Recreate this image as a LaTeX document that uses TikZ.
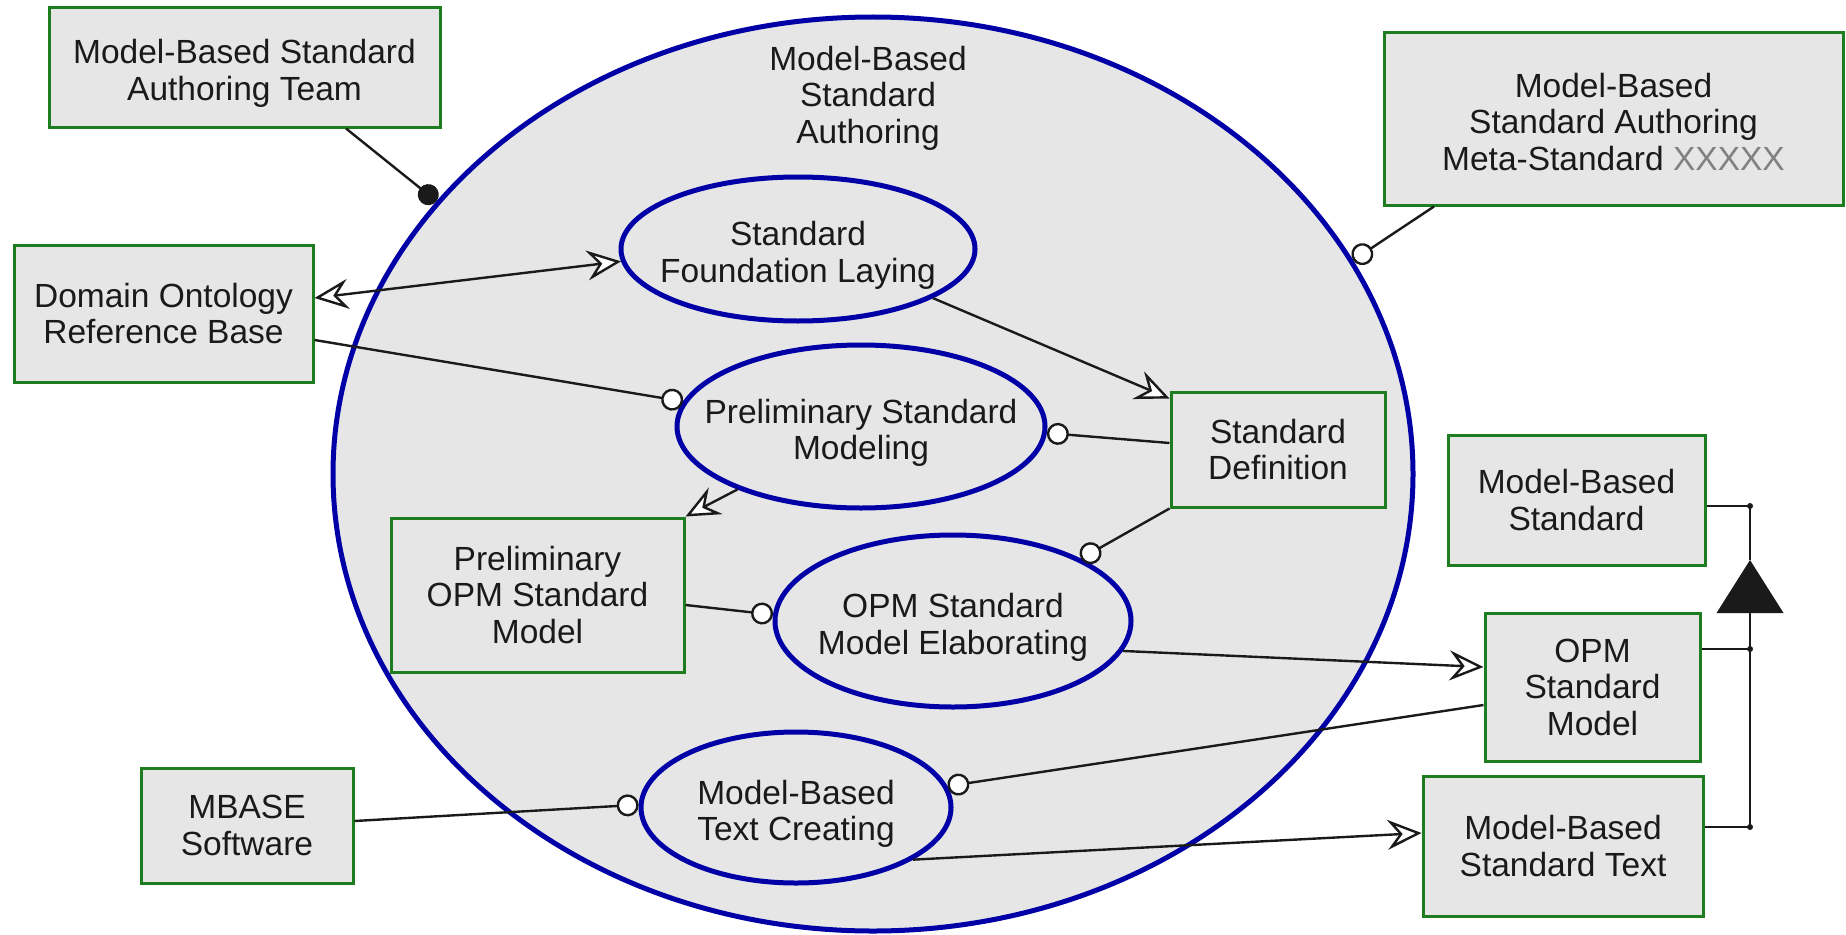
\documentclass[tikz,border=0pt]{standalone}
\usepackage{fontspec}
\setmainfont{Liberation Sans}
\usetikzlibrary{shapes.geometric,arrows.meta,calc}
\definecolor{boxfill}{HTML}{E6E6E6}
\definecolor{objgreen}{HTML}{1E7D1E}
\definecolor{procblue}{HTML}{0000A6}
\definecolor{ink}{HTML}{1A1A1A}

\tikzset{
  >={Stealth[fill=white, length=34pt, width=30pt, inset=12pt]},
  ocirc/.tip={Circle[fill=white, length=22pt]},
  bdot/.tip={Circle[fill=ink, length=21pt]},
}

\begin{document}
\begin{tikzpicture}[x=1pt, y=-1pt,
  txt/.style={font=\fontsize{33.5}{36.5}\selectfont, text=ink, align=center, inner sep=0pt},
  obj/.style={txt, rectangle, draw=objgreen, line width=3pt, fill=boxfill},
  proc/.style={ellipse, draw=procblue, line width=5pt, fill=boxfill, inner sep=0pt},
  conn/.style={draw=ink, line width=2.4pt},
]
\useasboundingbox (0,0) rectangle (1846,934);

% the enclosing process
\node[proc, minimum width=1080pt, minimum height=914pt] (main) at (873,474) {};
\node[txt] (mainlabel) at (868,98) {Model-Based\\Standard\\Authoring};

% objects
\node[obj, minimum width=391pt, minimum height=119pt] (team) at (244.5,67.5) {};
\node[txt] (teamtext) at ([yshift=-6pt]team.center) {Model-Based Standard\\Authoring Team};
\node[obj, minimum width=299pt, minimum height=137pt] (domain) at (163.5,313.5) {Domain Ontology\\Reference Base};
\node[obj, minimum width=459pt, minimum height=172pt] (meta) at (1613.5,119) {};
\node[txt] (metatext) at ([yshift=-3pt]meta.center) {Model-Based\\Standard Authoring\\Meta-Standard {\color{ink!55}XXXXX}};
\node[obj, minimum width=214pt, minimum height=115pt] (stddef) at (1278,449.5) {Standard\\Definition};
\node[obj, minimum width=293pt, minimum height=154pt] (popm) at (537.5,595) {Preliminary\\OPM Standard\\Model};
\node[obj, minimum width=257pt, minimum height=130pt] (mbs) at (1576.5,500) {Model-Based\\Standard};
\node[obj, minimum width=215pt, minimum height=148pt] (opmsm) at (1592.5,687) {OPM\\Standard\\Model};
\node[obj, minimum width=280pt, minimum height=140pt] (mbst) at (1563,846) {Model-Based\\Standard Text};
\node[obj, minimum width=212pt, minimum height=115pt] (mbase) at (247,825.5) {MBASE\\Software};

% subprocesses
\node[proc, minimum width=354pt, minimum height=144pt] (fl) at (798,249) {};
\node[txt] (fltext) at ([yshift=-6.5pt]fl.center) {Standard\\Foundation Laying};
\node[proc, minimum width=368pt, minimum height=163pt] (psm) at (861,426.5) {};
\node[txt] (psmtext) at ([yshift=-6.5pt]psm.center) {Preliminary Standard\\Modeling};
\node[proc, minimum width=356pt, minimum height=172pt] (ome) at (953,621) {};
\node[txt] (ometext) at ([yshift=-6.5pt]ome.center) {OPM Standard\\Model Elaborating};
\node[proc, minimum width=310pt, minimum height=151pt] (tc) at (796,807.5) {};
\node[txt] (tctext) at ([yshift=-6.5pt]tc.center) {Model-Based\\Text Creating};

% links
\draw[conn, -{bdot}] ([xshift=101.5pt]team.south) -- (main.148);
\draw[conn, -{ocirc}] ([xshift=-179.5pt]meta.south) -- (main.24);
\draw[conn, <->] ([yshift=15.5pt]domain.east) -- (fl.184);
\draw[conn, -{ocirc}] ([yshift=-26.5pt]domain.east) -- (psm.172);
\draw[conn, ->] (fl.340) -- ([yshift=-8pt]stddef.north west);
\draw[conn, -{ocirc}] ([yshift=6.5pt]stddef.west) -- (psm.358);
\draw[conn, ->] (psm.207) -- (popm.north east);
\draw[conn, -{ocirc}] (stddef.south west) -- (ome.26);
\draw[conn, -{ocirc}] ([yshift=-10pt]popm.east) -- (ome.178);
\draw[conn, ->] (ome.350) -- ([yshift=20pt]opmsm.west);
\draw[conn, -{ocirc}] ([yshift=-18pt]opmsm.west) -- (tc.8);
\draw[conn, -{ocirc}] ([yshift=4.5pt]mbase.east) -- (tc.179);
\draw[conn, ->] (tc.336) -- ([yshift=13pt]mbst.west);

% aggregation of the standard
\coordinate (apex) at (1750,560);
\coordinate (base) at (1750,613);
\coordinate (j1) at ([yshift=-6pt]mbs.east);
\coordinate (j2) at ([yshift=38pt]opmsm.east);
\coordinate (j3) at ([yshift=19pt]mbst.east);
\draw[conn] (j1) -| (apex);
\fill[ink] (apex) -- ++(-33.5,53) -- ++(67,0) -- cycle;
\draw[conn] (base) |- (j3);
\draw[conn] (j2) -- (j2 -| base);
\fill[ink] (j1 -| apex) circle (3pt) (j2 -| base) circle (3pt) (j3 -| base) circle (3pt);
\end{tikzpicture}
\end{document}
